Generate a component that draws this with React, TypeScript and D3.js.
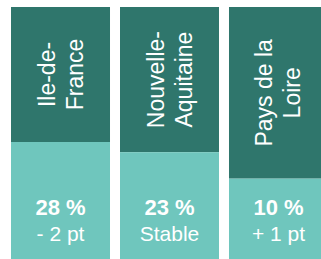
import React, { useRef, useEffect } from 'react';
import * as d3 from 'd3';

// region labels, split on two lines as in the source
const regions = ['Ile-de-France', 'Nouvelle-Aquitaine', 'Pays de la Loire'];
const labelLines = [['Ile-de-', 'France'], ['Nouvelle-', 'Aquitaine'], ['Pays de la', 'Loire']];
const shares = [28, 23, 10];
const changes = ['- 2 pt', 'Stable', '+ 1 pt'];

const App: React.FC = () => {
  const svgRef = useRef<SVGSVGElement>(null);

  useEffect(() => {
    const svg = d3.select(svgRef.current);
    svg.selectAll('*').remove();

    const width = 321;
    const height = 259;
    const top = 7;
    const dark = '#2f766c';
    const light = '#6fc6bd';
    const font = '"Liberation Sans", Arial, sans-serif';

    const x = d3.scaleBand<string>()
      .domain(regions)
      .range([11, 328])
      .paddingInner(0.0917)
      .paddingOuter(0);

    // top of the light part for each share
    const y = d3.scaleLinear().domain([0, 28]).range([199, 142]);

    const data = regions.map((r, i) => ({ r, lines: labelLines[i], share: shares[i], change: changes[i] }));

    const g = svg.append('g').selectAll('g').data(data).join('g')
      .attr('transform', d => `translate(${x(d.r)},0)`);

    const bw = x.bandwidth();

    g.append('rect')
      .attr('x', 0).attr('y', top)
      .attr('width', bw).attr('height', d => y(d.share) - top)
      .attr('fill', dark);

    g.append('rect')
      .attr('x', 0).attr('y', d => y(d.share))
      .attr('width', bw).attr('height', d => height - y(d.share))
      .attr('fill', light);

    // rotated region name
    const lbl = g.append('text')
      .attr('transform', d => `translate(${bw / 2},${(top + y(d.share)) / 2}) rotate(-90)`)
      .attr('text-anchor', 'middle')
      .attr('fill', '#fff')
      .attr('font-family', font)
      .attr('font-size', 23);

    lbl.selectAll('tspan').data(d => d.lines).join('tspan')
      .attr('x', 0)
      .attr('y', (_, i) => (i === 0 ? -6 : 22))
      .text(d => d);

    g.append('text')
      .attr('x', bw / 2).attr('y', 215)
      .attr('text-anchor', 'middle')
      .attr('fill', '#fff')
      .attr('font-family', font)
      .attr('font-weight', 'bold')
      .attr('font-size', 22)
      .text(d => `${d.share} %`);

    g.append('text')
      .attr('x', bw / 2).attr('y', 241)
      .attr('text-anchor', 'middle')
      .attr('fill', '#fff')
      .attr('font-family', font)
      .attr('font-size', 21)
      .text(d => d.change);

    svg.attr('width', width).attr('height', height);
  }, []);

  return (
    <svg
      ref={svgRef}
      width={321}
      height={259}
      style={{ position: 'absolute', left: 0, top: 0, background: '#fff' }}
    />
  );
};

export default App;
